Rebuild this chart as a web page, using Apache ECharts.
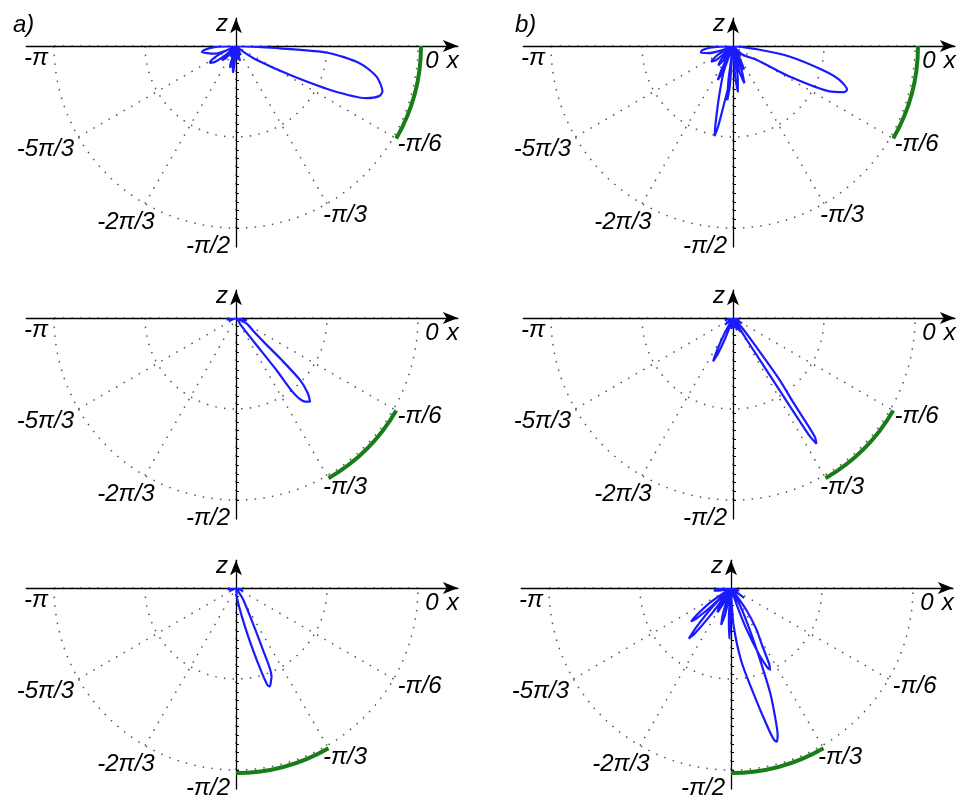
<!DOCTYPE html>
<html>
<head>
<meta charset="utf-8">
<script src="https://cdn.jsdelivr.net/npm/echarts@6/dist/echarts.min.js"></script>
<style>
  html, body { margin: 0; padding: 0; background: #fff; }
  #chart { width: 963px; height: 805px; }
</style>
</head>
<body>
<div id="chart"></div>
<script>
// angles in degrees: 0 = +x, -90 = -z
const angleTicks = [-180, -150, -120, -90, -60, -30, 0];
const angleNames = ['-π', '-5π/3', '-2π/3', '-π/2', '-π/3', '-π/6', '0'];
// small ticks on the z axis, one unit = 1/21 of the outer ring
const zTicks = [-1, -2, -3, -4, -5, -6, -7, -8, -9, -10, -11, -12, -13, -14, -15, -16, -17, -18, -19, -20, -21];
const panelTitles = ['a)', 'b)'];

// green arcs on the outer ring, [from, to] degrees, one per row
const greenArcs = [[0, -30], [-30, -60], [-60, -90]];

// blue patterns, points [r, angle]
const lobesA1 = [
  [0, -179], [2.5, -177], [3.7, -173], [4.0, -170], [3.4, -166], [2.6, -160], [1.5, -156], [0, -153],
  [0, -158], [2.0, -154], [3.3, -150], [3.6, -147], [3.0, -143], [1.6, -139], [0, -136],
  [0, -140], [1.6, -137], [2.3, -134], [1.8, -130], [0, -126],
  [1.4, -118], [0, -112],
  [0, -110], [2.2, -107], [2.6, -105], [1.8, -102], [0, -100],
  [2.5, -98], [3.1, -96.5], [2.4, -95], [0, -93],
  [0, -90], [1.6, -84], [0, -80], [1.8, -75], [0, -70], [1.2, -62], [0, -55], [0.8, -47], [0, -42],
  [1.1, -38], [2.9, -34], [7.1, -28.2], [12, -25], [16.2, -21.8], [17.5, -19.3], [17.7, -17.3],
  [16.6, -12.3], [14.4, -7.9], [10.6, -4.2], [5.1, -3], [2.5, -2.5], [0, -2]
];
const lobesA2 = [
  [0, -178], [1.1, -170], [0, -163], [0.9, -157], [0, -150],
  [0, -60], [1, -56], [3.5, -53], [7.6, -52.2], [10.9, -52.5], [12.5, -50.5], [12.9, -48.5],
  [12, -46.3], [10.3, -44.1], [7, -42.5], [4.7, -41.3], [2.5, -37], [1.4, -28], [0, -20],
  [1.3, -12], [0, -8], [0.8, -5], [0, -2]
];
const lobesA3 = [
  [0, -178], [1.0, -170], [0, -162], [0.8, -155], [0, -148],
  [0, -88], [1, -85.4], [4, -77.5], [7.4, -74.7], [10.3, -73], [11.8, -72], [12, -71],
  [11.5, -69.5], [11, -68.1], [7.8, -66.5], [4, -64], [1.5, -58], [0, -50],
  [0.9, -22], [0, -14], [0.7, -8], [0, -3]
];
const lobesB1 = [
  [0, -179], [2.5, -176], [3.6, -172], [3.8, -168], [3.0, -164], [1.5, -159], [0, -155],
  [0, -156], [2.0, -150], [3.1, -144.5], [2.5, -140], [0, -135],
  [0, -136], [2.2, -131], [2.8, -127], [1.8, -123], [0, -120],
  [0, -119], [3.0, -116], [4.3, -114], [3.2, -112], [0, -109.5],
  [0, -112], [3.1, -110], [6, -105.5], [9, -102.8], [10.6, -101.6], [9.5, -100.5], [7, -99], [4.7, -96.6], [0, -94],
  [0, -99], [4, -97.5], [6.3, -96], [4.5, -94.5], [0, -92],
  [0, -90], [3.5, -86], [5.3, -84], [4, -82], [0, -79.5], [3, -76], [4.5, -73], [3, -70.5], [0, -69],
  [2.2, -67], [3.0, -65], [1.8, -62], [0, -60], [1.5, -55], [0, -50],
  [0, -46], [1.5, -42], [3.2, -30.3], [7.5, -28.3], [12.3, -25.2], [13.9, -22.5], [14.1, -21],
  [12.8, -17.5], [10.7, -15], [6.7, -10.6], [2.8, -7.8], [0, -5]
];
const lobesB2 = [
  [0, -175], [1, -165], [0, -155], [1.2, -140], [0, -132],
  [0, -122], [2, -119], [4, -116.5], [5.5, -114.7], [4.5, -113], [2.5, -111], [0, -106],
  [1.3, -98], [0, -92], [1.2, -85], [0, -78], [1.5, -72], [0, -66], [1.8, -62], [0, -59.5],
  [3, -57.8], [10, -57.2], [16.3, -57], [17.4, -56.4], [16.6, -55.4], [12, -54.5], [8.9, -53],
  [4, -51], [1.5, -47], [0, -43],
  [1.2, -30], [0, -22], [0.8, -15], [0, -8]
];
const lobesB3 = [
  [0, -179], [1.5, -175], [2, -171], [1.2, -166], [0, -160],
  [0, -152], [3, -145], [5.2, -141.5], [6.0, -140], [5.4, -138.6], [3, -137], [0, -134],
  [0, -138], [3, -134.5], [6, -131.5], [7.6, -129.8], [6.8, -128.5], [4, -127], [0, -124],
  [0, -125], [2.6, -122], [3.2, -119], [2, -116], [0, -113],
  [0, -110], [3, -107.5], [4.4, -105], [3.2, -102.5], [0, -100],
  [0, -97], [3.5, -94], [5.8, -92], [4, -91], [0, -89.5],
  [0, -89], [1, -88.5], [4.4, -86], [8.5, -82], [12.4, -78], [16.5, -75.3], [18.2, -74.2], [18.5, -73.4],
  [17.8, -72.4], [15.5, -71], [12.9, -69.5], [9, -68], [5.5, -66], [2.5, -63], [0, -58],
  [0, -74], [2.5, -71], [5.1, -69.4], [8.5, -67], [10.2, -65.3], [10.4, -64.4], [9.8, -63.3],
  [7.5, -61.5], [5.6, -58.4], [3, -55], [0, -50],
  [1.9, -37], [0, -28], [1.0, -18], [0, -8]
];

// layout
const U = 182 / 21;             // px per radial unit
const panels = [
  { cx: 236, cy: 46, lobes: lobesA1, row: 0 },
  { cx: 236, cy: 318, lobes: lobesA2, row: 1 },
  { cx: 236, cy: 588, lobes: lobesA3, row: 2 },
  { cx: 733, cy: 46, lobes: lobesB1, row: 0 },
  { cx: 733, cy: 318, lobes: lobesB2, row: 1 },
  { cx: 731, cy: 588, lobes: lobesB3, row: 2 }
];
const labelOffsets = [[-18, 12], [-33, 12], [-19, 19], [-28, 18], [18, 12], [26, 7], [14, 15]];

const FONT = 'Liberation Sans';
const dotted = { color: '#555', width: 1.5, type: [1.5, 7.2] };
const axisLineStyle = { color: '#000', width: 1.3 };
const italic = { fontStyle: 'italic', fontWeight: 'normal', fontFamily: FONT, color: '#000' };

const option = {
  animation: false,
  backgroundColor: '#fff',
  title: panelTitles.map((t, i) => ({
    text: t, left: i === 0 ? 8 : 510, top: 8,
    textStyle: { ...italic, fontSize: 24 }
  })),
  grid: [], xAxis: [], yAxis: [],
  polar: [], angleAxis: [], radiusAxis: [],
  series: []
};

panels.forEach((p, i) => {
  // cartesian frame: only the x / z axes with arrows
  option.grid.push({ left: p.cx - 24.2 * U, top: p.cy - 3.2 * U, width: 49.8 * U, height: 26.4 * U });
  option.xAxis.push({
    gridIndex: i, type: 'value', min: -24.2, max: 25.6,
    axisLine: { onZero: true, symbol: ['none', 'arrow'], symbolSize: [9, 15], lineStyle: axisLineStyle },
    axisTick: { show: false }, axisLabel: { show: false }, splitLine: { show: false },
    name: 'x', nameLocation: 'end', nameGap: -11,
    nameTextStyle: { ...italic, fontSize: 24, align: 'left', verticalAlign: 'top', padding: [3, 0, 0, 0] }
  });
  option.yAxis.push({
    gridIndex: i, type: 'value', min: -23.2, max: 3.2,
    axisLine: { onZero: true, symbol: ['none', 'arrow'], symbolSize: [9, 15], lineStyle: axisLineStyle },
    axisTick: { show: true, inside: true, length: 3, customValues: zTicks, lineStyle: { color: '#000', width: 1 } },
    axisLabel: { show: false }, splitLine: { show: false },
    name: 'z', nameLocation: 'end', nameGap: -18,
    nameTextStyle: { ...italic, fontSize: 24, padding: [0, 28, 0, 0] }
  });

  // polar for the dotted grid and the pattern
  const pi = 2 * i, gi = 2 * i + 1;
  option.polar.push({ center: [p.cx, p.cy], radius: 182 });
  option.angleAxis.push({
    polarIndex: pi, type: 'value', min: -180, max: 0, startAngle: -180, endAngle: 0, clockwise: false,
    interval: 30, axisLine: { show: false }, axisTick: { show: false }, axisLabel: { show: false },
    splitLine: { show: true, lineStyle: dotted }
  });
  option.radiusAxis.push({
    polarIndex: pi, type: 'value', min: 0, max: 21, interval: 10.5,
    axisLine: { show: false }, axisTick: { show: false }, axisLabel: { show: false },
    splitLine: { show: true, lineStyle: dotted }
  });

  // polar ring for the green arc
  option.polar.push({ center: [p.cx, p.cy], radius: [183, 187] });
  option.angleAxis.push({
    polarIndex: gi, type: 'value', min: -180, max: 0, startAngle: -180, endAngle: 0, clockwise: false,
    axisLine: { show: false }, axisTick: { show: false }, axisLabel: { show: false }, splitLine: { show: false }
  });
  option.radiusAxis.push({
    polarIndex: gi, type: 'category', data: ['arc'],
    axisLine: { show: false }, axisTick: { show: false }, axisLabel: { show: false }, splitLine: { show: false }
  });

  option.series.push({
    type: 'line', coordinateSystem: 'polar', polarIndex: pi,
    data: p.lobes, showSymbol: false, symbol: 'none', smooth: 0.25, clip: false, z: 5, silent: true,
    lineStyle: { color: '#1a1aff', width: 2.2 }
  });
  // angle labels sit on the outer ring
  option.series.push({
    type: 'scatter', coordinateSystem: 'polar', polarIndex: pi, symbolSize: 0, clip: false, silent: true,
    itemStyle: { opacity: 1 },
    data: angleTicks.map((a, k) => ({ value: [21, a], label: { offset: labelOffsets[k] } })),
    label: { show: true, position: 'inside', formatter: (d) => angleNames[d.dataIndex], ...italic, fontSize: 24 }
  });
  const arc = greenArcs[p.row];
  option.series.push({
    type: 'bar', coordinateSystem: 'polar', polarIndex: gi, stack: 'g' + i, barWidth: 4, silent: true,
    data: [arc[0]], itemStyle: { color: 'rgba(0,0,0,0)' }
  });
  option.series.push({
    type: 'bar', coordinateSystem: 'polar', polarIndex: gi, stack: 'g' + i, barWidth: 4, silent: true, z: 6,
    data: [arc[1] - arc[0]], itemStyle: { color: '#187d18' }
  });
});

const chart = echarts.init(document.getElementById('chart'), null, { renderer: 'canvas' });
chart.setOption(option);
</script>
</body>
</html>
